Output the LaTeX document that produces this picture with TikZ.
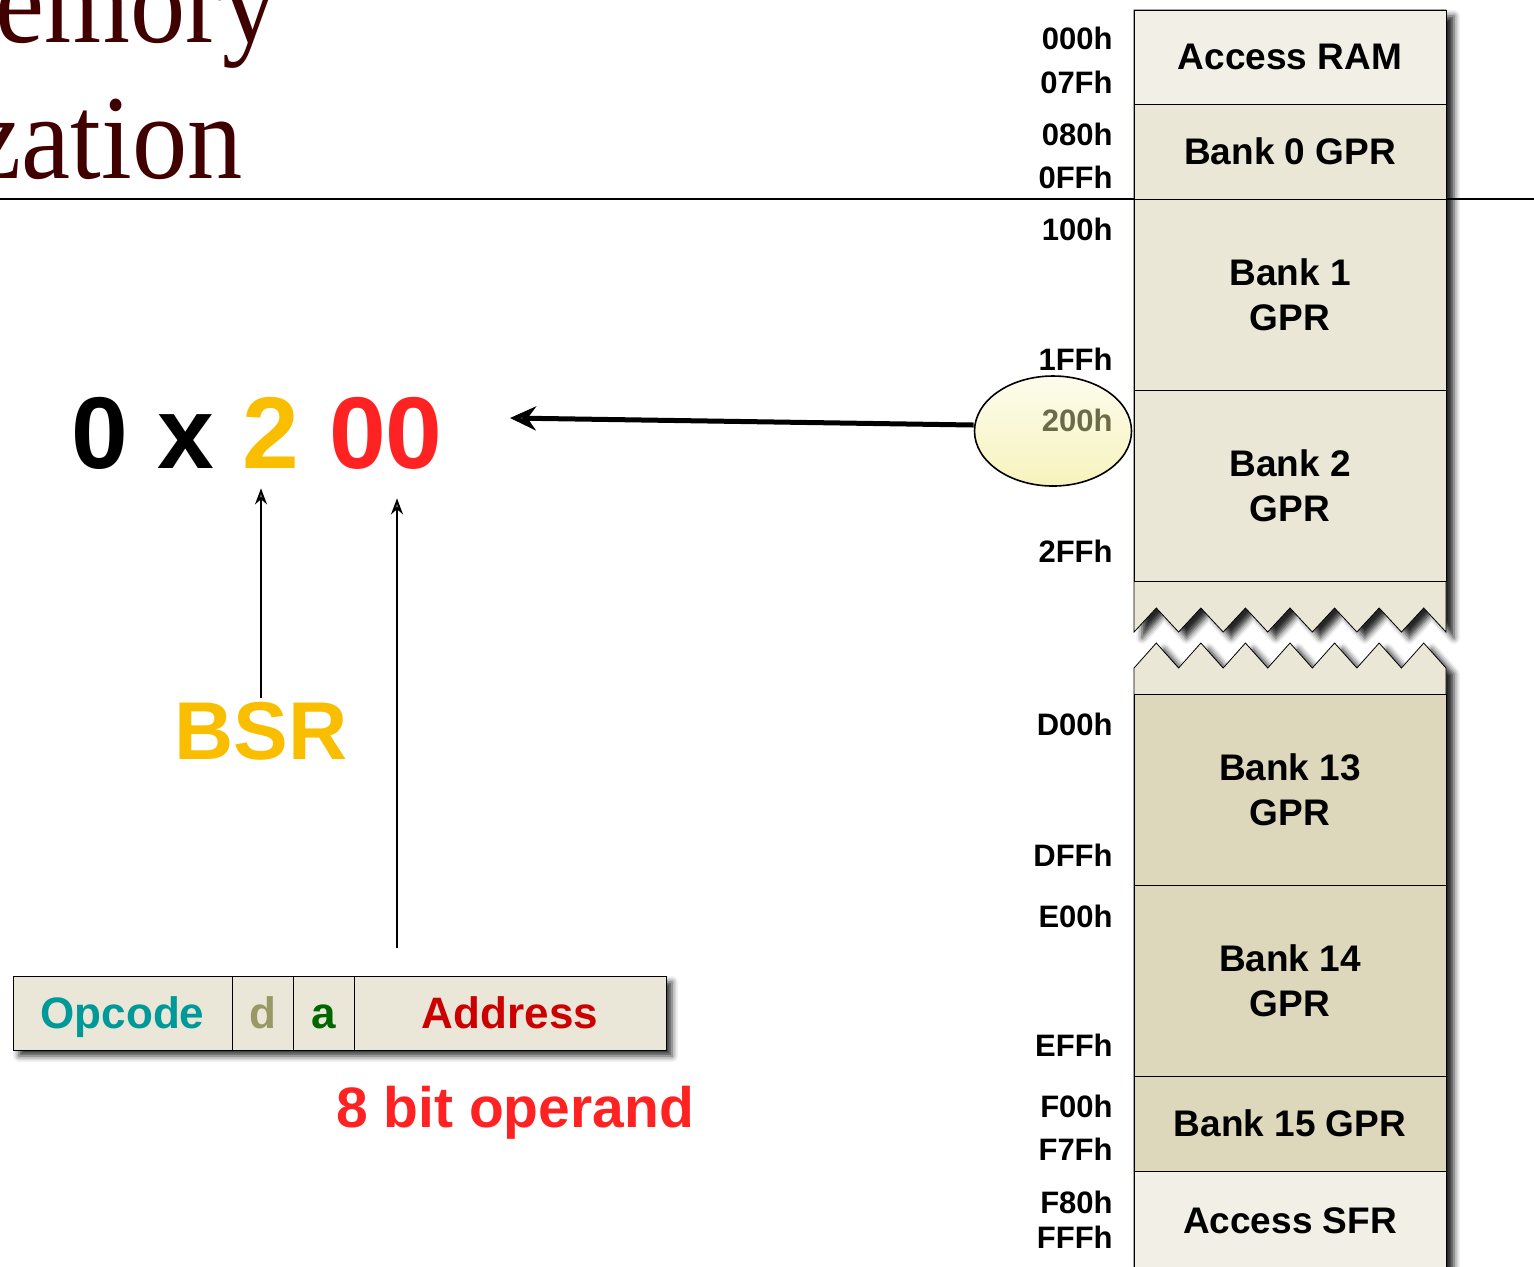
\documentclass[tikz,border=0pt]{standalone}
\usepackage{fontspec}
\setmainfont{Liberation Sans}
\newfontfamily\titlefont[FakeStretch=0.92]{Liberation Serif}
\usetikzlibrary{positioning,shapes.geometric,arrows.meta,shadows.blur,backgrounds}

\definecolor{titlec}{RGB}{64,0,0}
\definecolor{lightrow}{RGB}{242,240,230}
\definecolor{midrow}{RGB}{234,231,215}
\definecolor{darkrow}{RGB}{221,216,188}
\definecolor{cellfill}{RGB}{235,231,216}
\definecolor{bsrc}{RGB}{250,190,0}
\definecolor{brightred}{RGB}{255,34,34}
\definecolor{addrred}{RGB}{204,0,0}
\definecolor{opteal}{RGB}{0,153,153}
\definecolor{dolive}{RGB}{153,153,102}
\definecolor{agreen}{RGB}{0,102,0}
\definecolor{selgrey}{RGB}{107,107,72}
\definecolor{ellA}{RGB}{252,252,236}
\definecolor{ellB}{RGB}{247,243,190}

\tikzset{
  bank/.style={draw, outer sep=0pt, inner sep=0pt, minimum width=156pt, align=center,
    font=\fontsize{18.5}{22.5}\selectfont\bfseries},
  addr/.style={anchor=east, inner sep=0pt, font=\fontsize{15.5}{18}\selectfont\bfseries},
  cell/.style={draw, fill=cellfill, outer sep=0pt, inner sep=0pt, minimum height=37pt,
    text height=17pt, text depth=2pt, font=\fontsize{22}{26}\selectfont\bfseries},
  big/.style={anchor=base, inner sep=0pt, font=\fontsize{51}{51}\selectfont\bfseries},
  ttl/.style={anchor=base east, inner sep=0pt, text=titlec, font=\titlefont\fontsize{60}{60}\selectfont},
  piece/.style={draw, fill=midrow,
    blur shadow={shadow xshift=4pt, shadow yshift=-3pt, shadow blur radius=3pt, shadow opacity=85}},
  ptr/.style={-{Stealth[length=8pt,width=6pt]}, line width=0.9pt},
  bigptr/.style={-{Stealth[length=13pt,width=12pt]}, line width=2.5pt},
}

\begin{document}
\begin{tikzpicture}[x=0.5pt,y=-0.5pt]
  \useasboundingbox (0,0) rectangle (1534,1266);
  \node[ttl] (ttl1) at (278,42) {emory};
  \node[ttl] (ttl2) at (243,178) {zation};
  \draw[line width=1pt] (0,199) -- (1534,199);

  \path[piece] (1134,632) \foreach \i in {0,...,6} { -- ({1134+44.571*(\i+0.5)},608) -- ({1134+44.571*(\i+1)},632) } -- (1446,10) -- (1134,10) -- cycle;
  \path[piece] (1134,668) \foreach \i in {0,...,6} { -- ({1134+44.571*(\i+0.5)},643) -- ({1134+44.571*(\i+1)},668) } -- (1446,1290) -- (1134,1290) -- cycle;

  \node[bank, fill=lightrow, minimum height=47pt] (accram) at (1290,57) {Access RAM};
  \node[bank, fill=midrow, minimum height=47.5pt, below=0pt of accram] (bank0) {Bank 0 GPR};
  \node[bank, fill=midrow, minimum height=95.5pt, below=0pt of bank0] (bank1) {Bank 1\\GPR};
  \node[bank, fill=midrow, minimum height=95.5pt, below=0pt of bank1] (bank2) {Bank 2\\GPR};
  \node[bank, fill=darkrow, minimum height=95.5pt] (bank13) at (1290,789.5) {Bank 13\\GPR};
  \node[bank, fill=darkrow, minimum height=95.5pt, below=0pt of bank13] (bank14) {Bank 14\\GPR};
  \node[bank, fill=darkrow, minimum height=47.5pt, below=0pt of bank14] (bank15) {Bank 15 GPR};
  \node[bank, fill=lightrow, minimum height=50pt, below=0pt of bank15] (accsfr) {Access SFR};

  \foreach \t/\y in {000h/38, 07Fh/82, 080h/134, 0FFh/177, 100h/229, 1FFh/359,
      2FFh/551, D00h/724, DFFh/855, E00h/916, EFFh/1045, F00h/1106, F7Fh/1149,
      F80h/1202, FFFh/1237}
    \node[addr] (a\t) at (1113,\y) {\t};

  \node[ellipse, draw, line width=0.8pt, minimum width=78.5pt, minimum height=55pt,
    inner sep=0pt, top color=ellA, bottom color=ellB] (sel) at (1053,431) {};
  \node[addr, text=selgrey] (a200h) at (1113,420) {200h};

  \node[big] (zero) at (100,468) {0};
  \node[big] (xmark) at (186,468) {x};
  \node[big, text=bsrc] (hi) at (271,468) {2};
  \node[big, text=brightred] (lo) at (386,468) {00};
  \coordinate (tip) at (510,418);
  \draw[bigptr] ([yshift=3pt]sel.west) -- (tip);

  \node[inner sep=2pt, text=bsrc, font=\fontsize{41}{41}\selectfont\bfseries] (bsr) at (261,731) {BSR};
  \draw[ptr, shorten >=10pt] (bsr.north) -- (bsr.north |- hi.south);

  \node[cell, minimum width=109.5pt, anchor=west, text=opteal] (opc) at (13,1013) {Opcode};
  \node[cell, minimum width=30.5pt, right=0pt of opc, text=dolive] (dbit) {d};
  \node[cell, minimum width=30.5pt, right=0pt of dbit, text=agreen] (abit) {a};
  \node[cell, minimum width=156pt, right=0pt of abit, text=addrred] (addr) {Address};
  \begin{scope}[on background layer]
    \path[blur shadow={shadow xshift=3pt, shadow yshift=-3pt, shadow blur radius=3pt, shadow opacity=80}]
      (opc.north west) rectangle (addr.south east);
  \end{scope}
  \coordinate (tap) at (397,948);
  \draw[ptr, shorten >=14.5pt] (tap) -- (tap |- lo.south);

  \node[anchor=base, inner sep=0pt, text=brightred, font=\fontsize{28.5}{31}\selectfont\bfseries] (opnd) at (515,1127) {8 bit operand};
\end{tikzpicture}
\end{document}
